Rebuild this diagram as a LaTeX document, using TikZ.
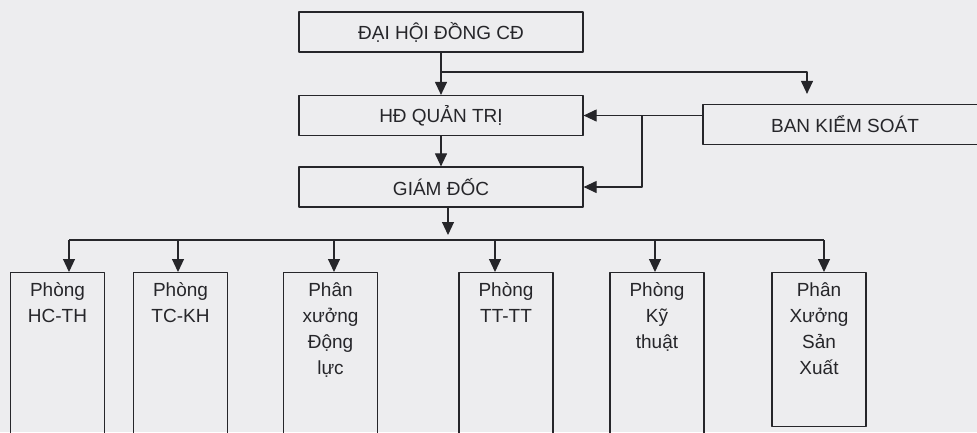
\documentclass[tikz,border=0pt]{standalone}
\usepackage{fontspec}
\setmainfont{Liberation Sans}
\usetikzlibrary{arrows.meta}
\definecolor{nengiay}{RGB}{237,237,239}
\definecolor{netve}{RGB}{38,38,42}
\begin{document}
\begin{tikzpicture}[x=1pt,y=-1pt,line join=round,>={Triangle[length=13pt,width=12pt]},line width=1.1pt,draw=netve]
			\tikzset{hopbox/.style={draw=netve,line width=1.2pt,minimum width=284pt,minimum height=40pt,inner sep=0pt,text=netve,font=\fontsize{19}{26}\selectfont},
				phongbox/.style={draw=netve,line width=1.2pt,anchor=north,minimum width=94pt,text width=80pt,align=center,inner xsep=2pt,inner ysep=9pt,text height=15pt,text depth=141pt,text=netve,font=\fontsize{19}{26}\selectfont}}
			% Nền và khung hình
			\fill[nengiay] (0,0) rectangle (977,432);
			\useasboundingbox (0,0) rectangle (977,432);
			% Các cấp lãnh đạo
			\node[hopbox] (dhcd) at (441,32) {ĐẠI HỘI ĐỒNG CĐ};
			\node[hopbox] (hdqt) at (441,115.5) {HĐ QUẢN TRỊ};
			\node[hopbox] (gd) at (441,187) {GIÁM ĐỐC};
			\node[hopbox] (bks) at (845,124.5) {BAN KIỂM SOÁT};
			% Mũi tên giữa các cấp
			\coordinate (r1) at (441,72);
			\draw[->] (dhcd) -- (hdqt);
			\draw[->,shorten >=10pt] (r1) -| (bks.north -| 807,0);
			\draw[->] (hdqt) -- (gd);
			\draw[->] (bks.west |- hdqt.east) -- (hdqt.east);
			\draw[->] (hdqt.east -| 642,0) |- (gd.east);
			% Các phòng ban
			\foreach \ten/\cx/\ax/\chu in {
				hcth/57.5/69/{Phòng\\HC-TH},
				tckh/180.5/178/{Phòng\\TC-KH},
				pxdl/330.5/334/{Phân\\xưởng\\Động\\lực},
				tttt/506/495/{Phòng\\TT-TT},
				kt/657/655/{Phòng\\Kỹ\\thuật}
			}{
				\node[phongbox] (\ten) at (\cx,272) {\chu};
			}
			\node[phongbox,text depth=121pt] (pxsx) at (819,272) {Phân\\Xưởng\\Sản\\Xuất};
			% Đường phân nhánh xuống các phòng
			\draw[->] (gd.south -| 448,0) -- (448,235);
			\draw (69,240) -- (824,240);
			\foreach \ten/\ax in {hcth/69,tckh/178,pxdl/334,tttt/495,kt/655,pxsx/824}{
				\draw[->] (\ax,240) -- (\ten.north -| \ax,0);
			}
		\end{tikzpicture}
\end{document}
